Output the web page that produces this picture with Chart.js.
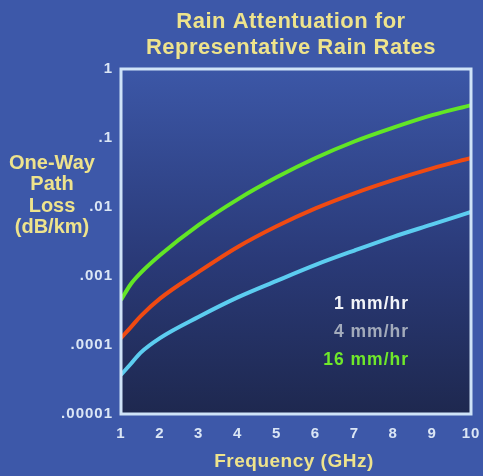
<!DOCTYPE html>
<html>
<head>
<meta charset="utf-8">
<script src="https://cdn.jsdelivr.net/npm/chart.js@4/dist/chart.umd.min.js"></script>
<style>
    html, body { margin: 0; padding: 0; background: #3d58a9; overflow: hidden; }
    #caja { width: 483px; height: 476px; }
</style>
</head>
<body>
<div id="caja"><canvas id="grafico"></canvas></div>
<script>
// Datos (dB/km por frecuencia en GHz)
const frecuencias = [1, 1.25, 1.5, 2, 3, 4, 5, 6, 7, 8, 9, 10];
const lluvia16 = [4.5e-4, 7.6e-4, 1.1e-3, 2.0e-3, 5.5e-3, 0.0129, 0.0269, 0.0513, 0.089, 0.141, 0.214, 0.30];
const lluvia4  = [1.26e-4, 1.8e-4, 2.6e-4, 4.7e-4, 1.15e-3, 2.63e-3, 5.25e-3, 9.55e-3, 0.0158, 0.0245, 0.0363, 0.0513];
const lluvia1  = [3.7e-5, 5.3e-5, 7.7e-5, 1.26e-4, 2.57e-4, 4.9e-4, 8.5e-4, 1.45e-3, 2.34e-3, 3.7e-3, 5.6e-3, 8.5e-3];

const ticksY = [1, 0.1, 0.01, 0.001, 0.0001, 0.00001];
const etiquetasY = ["1", ".1", ".01", ".001", ".0001", ".00001"];
const ticksX = [1, 2, 3, 4, 5, 6, 7, 8, 9, 10];

const titulo = ["Rain Attentuation for", "Representative Rain Rates"];
const tituloY = ["One-Way", "Path", "Loss", "(dB/km)"];
const tituloX = "Frequency (GHz)";
const leyenda = ["1 mm/hr", "4 mm/hr", "16 mm/hr"];
const coloresLeyenda = ["#f2f4f8", "#a3abbb", "#6fe82a"];

const AMARILLO = "#eee38c";
const FUENTE = "'Liberation Sans', Arial, sans-serif";

// Fondo degradado, marco y textos fijos
const decorado = {
    id: "decorado",
    beforeDraw(chart) {
        chart.ctx.letterSpacing = "1px"; // las etiquetas del original son anchas
    },
    beforeDatasetsDraw(chart) {
        const { ctx, chartArea: a } = chart;
        const grad = ctx.createLinearGradient(0, a.top, 0, a.bottom);
        grad.addColorStop(0, "#3c57a7");
        grad.addColorStop(0.55, "#2a3a78");
        grad.addColorStop(1, "#1e284f");
        ctx.save();
        ctx.fillStyle = grad;
        ctx.fillRect(a.left, a.top, a.right - a.left, a.bottom - a.top);
        ctx.restore();
    },
    afterDatasetsDraw(chart) {
        const { ctx, chartArea: a } = chart;
        ctx.save();
        ctx.strokeStyle = "#cfe3f8";
        ctx.lineWidth = 3;
        ctx.strokeRect(a.left, a.top, a.right - a.left, a.bottom - a.top);
        ctx.restore();
    },
    afterDraw(chart) {
        const { ctx } = chart;
        ctx.save();
        ctx.textAlign = "center";
        ctx.textBaseline = "middle";
        ctx.fillStyle = AMARILLO;
        ctx.letterSpacing = "0.5px";
        ctx.font = `bold 22px ${FUENTE}`;
        titulo.forEach((t, i) => ctx.fillText(t, 291, 22 + i * 26));
        ctx.letterSpacing = "0px";
        ctx.font = `bold 20px ${FUENTE}`;
        tituloY.forEach((t, i) => ctx.fillText(t, 52, 163 + i * 21.5));
        ctx.letterSpacing = "0.5px";
        ctx.font = `bold 19px ${FUENTE}`;
        ctx.fillText(tituloX, 294, 462);

        ctx.textAlign = "right";
        ctx.letterSpacing = "1px";
        ctx.font = `bold 17.5px ${FUENTE}`;
        leyenda.forEach((t, i) => {
            ctx.fillStyle = coloresLeyenda[i];
            ctx.fillText(t, 409, 304 + i * 28);
        });
        ctx.restore();
    },
};

const fuenteTicks = { family: FUENTE, size: 15, weight: "bold" };

new Chart(document.getElementById("grafico").getContext("2d"), {
    type: "line",
    data: {
        labels: frecuencias,
        datasets: [
            { label: leyenda[2], data: frecuencias.map((f, i) => ({ x: f, y: lluvia16[i] })), borderColor: "#62e626" },
            { label: leyenda[1], data: frecuencias.map((f, i) => ({ x: f, y: lluvia4[i] })), borderColor: "#f04a12" },
            { label: leyenda[0], data: frecuencias.map((f, i) => ({ x: f, y: lluvia1[i] })), borderColor: "#5ccdf0" },
        ].map(d => ({ ...d, borderWidth: 4, pointRadius: 0, cubicInterpolationMode: "monotone", fill: false })),
    },
    options: {
        responsive: true,
        maintainAspectRatio: false,
        animation: false,
        layout: { padding: { left: 0, top: 69, right: 12, bottom: 0 } },
        plugins: { legend: { display: false }, tooltip: { enabled: false } },
        scales: {
            x: {
                type: "linear", min: 1, max: 10,
                afterBuildTicks: s => { s.ticks = ticksX.map(v => ({ value: v })); },
                afterFit: s => { s.height = 62; s.paddingLeft = 0; s.paddingRight = 0; },
                grid: { display: false, drawTicks: false },
                border: { display: false },
                ticks: { color: "#dbe6f5", font: fuenteTicks, padding: 11, maxRotation: 0, autoSkip: false },
            },
            y: {
                type: "logarithmic", min: 0.00001, max: 1,
                afterBuildTicks: s => { s.ticks = ticksY.map(v => ({ value: v })); },
                afterFit: s => { s.width = 121; s.paddingTop = 0; s.paddingBottom = 0; },
                grid: { display: false, drawTicks: false },
                border: { display: false },
                ticks: {
                    color: "#dbe6f5", font: fuenteTicks, padding: 8, autoSkip: false,
                    callback: v => etiquetasY[ticksY.indexOf(v)] ?? "",
                },
            },
        },
    },
    plugins: [decorado],
});
</script>
</body>
</html>
